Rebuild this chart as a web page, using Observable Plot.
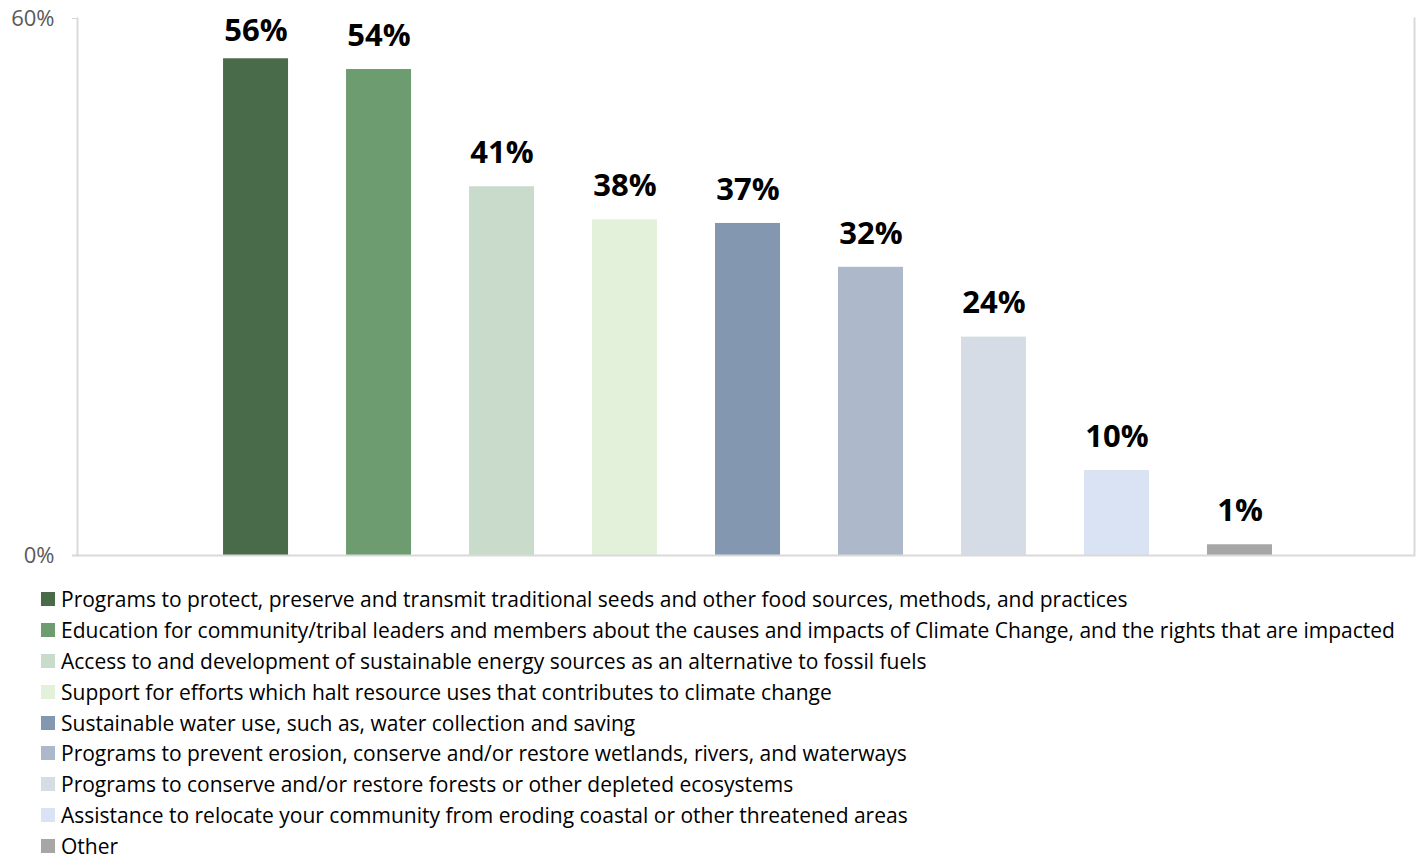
<!DOCTYPE html>
<html>
<head>
<meta charset="utf-8">
<script src="https://cdn.jsdelivr.net/npm/d3@7"></script>
<script src="https://cdn.jsdelivr.net/npm/@observablehq/plot@0.6"></script>
<style>
  html, body { margin: 0; padding: 0; background: #fff; }
  #chart svg { display: block; }
  #legend { padding-top: 9px; padding-left: 41px; font-family: "Open Sans", sans-serif; font-size: 21px; color: #000; }
  .item { display: flex; align-items: center; height: 30.8px; white-space: nowrap; }
  .sw { width: 14px; height: 14px; margin-right: 6px; flex: none; }
</style>
</head>
<body>
<div id="chart"></div>
<div id="legend"></div>
<script>
const categories = [
  "Programs to protect, preserve and transmit traditional seeds and other food sources, methods, and practices",
  "Education for community/tribal leaders and members about the causes and impacts of Climate Change, and the rights that are impacted",
  "Access to and development of sustainable energy sources as an alternative to fossil fuels",
  "Support for efforts which halt resource uses that contributes to climate change",
  "Sustainable water use, such as, water collection and saving",
  "Programs to prevent erosion, conserve and/or restore wetlands, rivers, and waterways",
  "Programs to conserve and/or restore forests or other depleted ecosystems",
  "Assistance to relocate your community from eroding coastal or other threatened areas",
  "Other"
];
const values = [55.5, 54.3, 41.2, 37.5, 37.1, 32.2, 24.4, 9.5, 1.2];
const labels = ["56%", "54%", "41%", "38%", "37%", "32%", "24%", "10%", "1%"];
const colors = ["#4a6b4a", "#6e9c71", "#c9dccb", "#e3f0da", "#8497b0", "#adb9ca", "#d6dce5", "#dae3f3", "#a6a6a6"];
const yTicks = [0, 60];

const data = categories.map((c, i) => ({cat: c, value: values[i], label: labels[i], color: colors[i]}));

const chart = Plot.plot({
  width: 1419,
  height: 575,
  marginLeft: 77,
  marginRight: 5,
  marginTop: 18,
  marginBottom: 20,
  style: {fontFamily: "Open Sans, sans-serif", background: "#fff"},
  x: {domain: categories, paddingInner: 0.4715, paddingOuter: 1.171, align: 0.507, round: false, axis: null},
  y: {domain: [0, 60], axis: null},
  marks: [
    Plot.frame({anchor: "left", stroke: "#d9d9d9", strokeWidth: 2}),
    Plot.frame({anchor: "right", stroke: "#d9d9d9", strokeWidth: 2}),
    Plot.axisY({ticks: yTicks, tickFormat: d => d + "%", label: null, tickSize: 5, tickPadding: 18, stroke: "#d9d9d9", fill: "#595959", fontSize: 22, tickStrokeWidth: 2}),
    Plot.barY(data, {x: "cat", y: "value", fill: "color"}),
    Plot.ruleY([0], {stroke: "#d9d9d9", strokeWidth: 2, insetLeft: -5}),
    Plot.text(data, {x: "cat", y: d => Math.min(d.value + 3.75, 58.55), text: "label", fontSize: 31, fontWeight: "bold", fill: "#000"})
  ]
});
document.getElementById("chart").appendChild(chart);

const legend = d3.select("#legend");
categories.forEach((c, i) => {
  const row = legend.append("div").attr("class", "item");
  row.append("div").attr("class", "sw").style("background", colors[i]);
  row.append("span").text(c);
});
</script>
</body>
</html>
